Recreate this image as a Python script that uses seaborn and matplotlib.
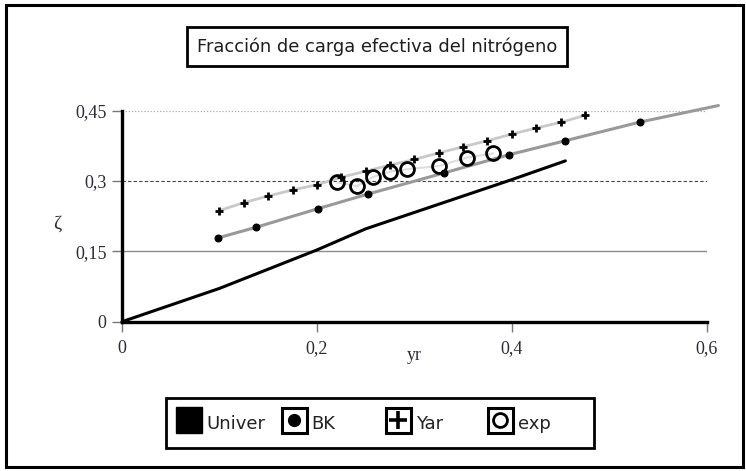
import matplotlib
matplotlib.use('Agg')
import matplotlib.pyplot as plt
from matplotlib.lines import Line2D
from matplotlib.patches import Rectangle
import seaborn as sns

# data
univer_x = [0.0, 0.1, 0.2, 0.25, 0.3, 0.35, 0.4, 0.455]
univer_y = [0.0, 0.071, 0.153, 0.198, 0.233, 0.268, 0.303, 0.343]

bk_x = [0.099, 0.137, 0.201, 0.252, 0.330, 0.397, 0.455, 0.532, 0.612]
bk_y = [0.179, 0.201, 0.241, 0.272, 0.317, 0.356, 0.386, 0.426, 0.461]

yar_x = [0.1, 0.125, 0.15, 0.175, 0.2, 0.225, 0.25, 0.275,
         0.3, 0.325, 0.35, 0.375, 0.4, 0.425, 0.45, 0.475]
yar_y = [0.237, 0.254, 0.268, 0.281, 0.292, 0.308, 0.321, 0.334,
         0.346, 0.360, 0.373, 0.386, 0.400, 0.413, 0.425, 0.440]

exp_x = [0.221, 0.241, 0.258, 0.275, 0.292, 0.325, 0.354, 0.381]
exp_y = [0.297, 0.289, 0.309, 0.320, 0.325, 0.332, 0.350, 0.359]

series_names = ['Univer', 'BK', 'Yar', 'exp']
x_ticks = [0, 0.2, 0.4, 0.6]
x_labels = ['0', '0,2', '0,4', '0,6']
y_ticks = [0, 0.15, 0.3, 0.45]
y_labels = ['0', '0,15', '0,3', '0,45']

sns.set_style('white')
plt.rcParams['font.family'] = ['DejaVu Sans']

W, H = 746, 471
fig = plt.figure(figsize=(W / 100, H / 100), dpi=100)
ax = fig.add_axes([122 / W, 1 - 321.7 / H, 584.7 / W, 211 / H])

# horizontal reference lines, each drawn in its own style
grid_styles = [dict(color='#8c8c8c', lw=1.0, ls='-'),
               dict(color='#444444', lw=0.8, ls=(0, (3, 2))),
               dict(color='#aaaaaa', lw=0.9, ls=(0, (1, 1.5)))]
for yv, st in zip(y_ticks[1:], grid_styles):
    ax.axhline(yv, zorder=0, **st)

sns.lineplot(x=exp_x, y=exp_y, ax=ax, color='#dedede', lw=1.5, sort=False,
             marker='o', markersize=10, markerfacecolor='none',
             markeredgecolor='black', markeredgewidth=2, zorder=3, clip_on=False)
sns.lineplot(x=yar_x, y=yar_y, ax=ax, color='#c9c9c9', lw=2, sort=False,
             marker='+', markersize=6, markeredgecolor='black',
             markeredgewidth=2, zorder=2, clip_on=False)
sns.lineplot(x=bk_x, y=bk_y, ax=ax, color='#999999', lw=2.2, sort=False,
             marker='o', markersize=5, markerfacecolor='black',
             markeredgecolor='black', markevery=list(range(len(bk_x) - 1)),
             zorder=2, clip_on=False)
sns.lineplot(x=univer_x, y=univer_y, ax=ax, color='black', lw=2.2, sort=False,
             zorder=4, clip_on=False)

ax.set_xlim(0, 0.6)
ax.set_ylim(0, 0.45)
ax.set_xticks(x_ticks)
ax.set_xticklabels(x_labels)
ax.set_yticks(y_ticks)
ax.set_yticklabels(y_labels)
for lab in ax.get_xticklabels() + ax.get_yticklabels():
    lab.set_family('Liberation Serif')
    lab.set_fontsize(13)
    lab.set_color('#2b2b3d')
ax.tick_params(axis='both', direction='out', length=7, width=1, color='#777777',
               pad=4, left=True, bottom=True)
ax.tick_params(axis='x', pad=6)

sns.despine(ax=ax)
for side in ('left', 'bottom'):
    ax.spines[side].set_color('black')
    ax.spines[side].set_linewidth(2.4)
ax.set_xlabel('')
ax.set_ylabel('')

fig.text(57 / W, 1 - 224 / H, 'ζ', family='Liberation Serif', fontsize=14,
         color='#2b2b3d', ha='center', va='center')
fig.text(414 / W, 1 - 356 / H, 'yr', family='Liberation Serif', fontsize=13,
         color='#2b2b3d', ha='center', va='center')

# title box
fig.text(377 / W, 1 - 46.5 / H, 'Fracción de carga efectiva del nitrógeno',
         fontsize=12.9, color='#1e1e1e', ha='center', va='center',
         bbox=dict(boxstyle='square,pad=0.55', fc='white', ec='black', lw=2))

# legend box with four fixed-pitch entries
fig.patches.append(Rectangle((166 / W, 1 - 448 / H), 428 / W, 50 / H,
                             transform=fig.transFigure, fill=False,
                             ec='black', lw=2))
box = dict(marker='s', ms=18, mfc='white', mec='black', mew=2.2, ls='none')
handles = [
    Line2D([], [], marker='s', ms=19, mfc='black', mec='black', ls='none'),
    (Line2D([], [], **box), Line2D([], [], marker='o', ms=8.5, mfc='black',
                                   mec='black', ls='none')),
    (Line2D([], [], **box), Line2D([], [], marker='+', ms=13, mec='black',
                                   mew=2.6, ls='none')),
    (Line2D([], [], **box), Line2D([], [], marker='o', ms=10, mfc='none',
                                   mec='black', mew=2, ls='none')),
]
entry_left = [176, 281, 385, 487]
for h, name, xl in zip(handles, series_names, entry_left):
    fig.legend([h], [name], loc='center left', frameon=False, fontsize=13,
               bbox_to_anchor=(xl / W, 1 - 423 / H), borderpad=0,
               borderaxespad=0, handlelength=1.45, handleheight=1.5,
               handletextpad=0.25, labelcolor='#222222')

# outer frame of the picture
fig.patches.append(Rectangle((6 / W, 1 - 467 / H), 737 / W, 462 / H,
                             transform=fig.transFigure, fill=False,
                             ec='black', lw=2.2))

fig.savefig('out.png', dpi=100)
